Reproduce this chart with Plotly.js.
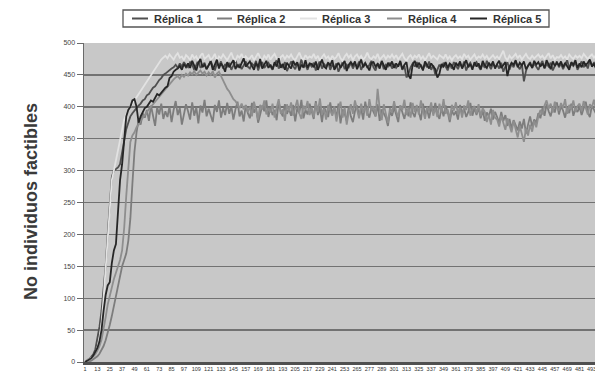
<!DOCTYPE html>
<html>
<head>
<meta charset="utf-8">
<script src="https://cdn.plot.ly/plotly-3.0.1.min.js"></script>
<style>html,body{margin:0;padding:0;background:#fff;}#chart{width:595px;height:381px;}</style>
</head>
<body>
<div id="chart"></div>
<script>
// Generation index step 2 (1,3,5,...,499)
const seriesNames = ["Réplica 1", "Réplica 2", "Réplica 3", "Réplica 4", "Réplica 5"];
const seriesColors = ["#4f4f4f", "#7d7d7d", "#e2e2e2", "#8e8e8e", "#262626"];

const replica1 = [
0,2,5,8,12,20,35,55,80,110,
150,200,250,290,300,302,305,310,330,350,
365,375,385,390,395,398,402,405,410,412,
418,420,425,430,432,438,442,445,450,452,
455,458,460,462,466,461,468,463,470,465,
462,470,466,458,467,473,461,465,469,459,
466,472,463,457,468,464,471,460,467,462,
469,458,465,474,462,467,459,466,471,463,
460,468,464,472,457,466,470,461,465,469,
463,458,467,473,460,466,462,470,456,465,
471,464,459,468,462,474,461,466,458,467,
463,469,457,465,472,460,467,463,470,458,
466,461,468,455,464,470,459,466,462,469,
460,467,463,471,458,465,469,461,466,472,
462,457,468,464,470,459,466,463,469,460,
467,461,465,470,458,464,446,452,462,468,
463,470,460,466,459,467,462,471,458,465,
450,458,466,461,469,463,457,467,460,470,
464,459,468,462,471,457,465,469,461,466,
470,463,458,467,461,472,464,459,468,462,
466,460,469,455,463,470,458,467,462,471,
464,459,467,440,456,465,470,461,468,463,
458,466,472,460,467,463,469,457,465,471,
462,468,459,466,473,461,467,464,470,458,
466,471,462,468,460,473,465,469,463,467];

const replica2 = [
0,0,1,2,4,6,9,13,18,25,
34,45,58,72,88,105,120,135,150,160,
170,190,225,280,330,360,380,372,390,383,
395,378,402,386,370,399,388,405,381,393,
384,400,376,395,409,387,398,372,390,404,
393,380,407,386,399,374,402,391,411,385,
397,388,376,403,392,410,383,398,387,406,
389,401,380,396,408,385,394,377,403,390,
382,406,391,399,375,388,402,393,410,384,
400,387,395,379,408,392,385,404,389,397,
386,403,377,398,390,411,382,395,388,405,
394,381,409,387,398,376,400,392,384,407,
388,399,383,405,374,396,389,378,401,385,
376,393,402,386,397,380,408,391,383,399,
392,385,404,378,396,389,383,370,392,386,
399,388,376,402,390,381,397,385,407,391,
384,400,392,379,405,388,396,382,399,390,
406,389,381,398,385,402,392,376,395,387,
393,380,403,389,397,384,392,406,386,398,
387,399,382,394,378,391,385,397,380,392,
384,375,392,378,387,370,381,366,379,372,
363,377,366,381,358,372,385,369,380,375,
390,382,398,386,404,393,385,400,391,407,
388,401,394,383,399,390,405,386,397,392,
400,387,396,408,391,384,402,395,389,398];

const replica3 = [
0,2,4,6,9,14,22,35,60,100,
150,200,250,285,300,315,335,350,365,380,
388,395,400,405,410,415,420,425,430,435,
440,445,450,456,460,465,470,474,477,480,
476,482,478,474,480,484,477,479,473,481,
478,473,482,476,479,471,480,484,475,478,
481,474,477,483,472,479,476,482,478,473,
479,485,476,472,480,477,483,474,479,475,
476,481,473,479,484,477,472,480,476,482,
474,479,483,476,471,478,481,475,480,477,
482,476,473,479,485,477,474,481,476,479,
477,483,475,480,472,478,482,476,479,473,
480,475,478,484,476,472,479,483,477,481,
473,479,482,476,480,474,478,485,477,475,
479,476,483,474,478,481,475,480,477,482,
476,481,474,479,483,476,472,478,481,475,
480,477,482,475,479,473,478,484,476,480,
477,474,481,478,476,482,475,479,473,478,
481,476,479,475,483,477,480,474,478,482,
475,479,477,482,476,480,474,478,481,476,
479,475,482,488,477,473,480,476,479,483,
476,481,474,478,483,477,475,480,476,479,
482,477,480,475,479,484,476,481,474,478,
477,481,476,479,474,482,478,475,480,477,
480,476,483,478,475,479,482,477,481,476];

const replica4 = [
0,1,3,5,8,12,18,25,35,50,
70,90,105,120,130,140,150,160,175,210,
260,310,345,355,360,368,372,378,383,388,
392,396,400,404,408,412,416,420,424,428,
432,436,440,443,446,448,444,450,447,452,
449,454,451,456,450,453,457,452,455,449,
454,450,456,446,452,455,448,440,434,428,
424,418,412,409,404,398,405,396,402,392,
400,385,408,392,380,403,396,410,388,398,
391,405,383,399,412,389,396,378,404,393,
407,386,398,411,390,381,402,395,409,387,
399,384,406,392,413,388,397,380,403,394,
386,401,377,395,408,383,399,372,392,404,
389,410,396,382,405,391,400,386,412,394,
401,385,428,397,379,404,389,375,398,391,
409,393,384,402,395,411,387,399,383,406,
392,403,388,410,395,381,400,393,407,386,
398,384,405,391,412,389,396,380,403,394,
407,388,399,383,402,395,410,386,397,401,
390,404,385,398,392,376,388,372,395,383,
380,369,386,375,364,382,371,360,378,366,
352,370,358,345,366,355,372,361,378,368,
385,395,388,402,410,397,405,391,408,399,
394,406,398,412,389,403,396,410,392,401,
405,393,409,397,388,404,399,411,395,402];

const replica5 = [
0,2,4,6,10,15,22,32,50,80,
105,120,125,155,175,185,240,285,310,348,
385,395,400,410,412,400,375,385,392,398,
400,405,410,408,415,420,418,422,425,430,
432,445,448,455,458,460,464,458,467,462,
468,461,472,464,457,469,475,462,466,459,
465,471,458,467,474,460,468,463,455,470,
462,468,473,459,466,461,470,476,463,467,
471,464,458,469,462,475,460,466,472,461,
466,459,470,463,476,461,467,458,469,464,
460,472,465,470,457,466,462,473,461,468,
467,462,471,458,466,474,463,460,469,465,
473,458,464,469,461,467,472,456,466,470,
465,471,459,466,474,462,468,463,457,469,
470,463,467,460,472,465,458,469,464,471,
461,468,463,472,459,466,470,449,444,466,
472,462,469,464,457,471,465,460,468,463,
459,446,452,467,463,470,461,468,465,458,
469,464,471,460,466,473,462,467,458,470,
463,468,459,472,465,461,469,464,471,460,
467,472,461,465,470,448,463,469,466,473,
462,469,465,471,459,464,468,461,472,466,
470,463,468,461,473,466,459,471,464,469,
465,471,462,469,464,458,470,466,473,461,
468,462,471,465,469,474,463,467,460,470];

const xTickLabels = [1,13,25,37,49,61,73,85,97,109,121,133,145,157,169,181,193,205,217,229,241,253,265,277,289,301,313,325,337,349,361,373,385,397,409,421,433,445,457,469,481,493];
const yTicks = [0,50,100,150,200,250,300,350,400,450,500];
const xMax = 496;

const allSeries = [replica1, replica2, replica3, replica4, replica5];
const traces = allSeries.map((vals, s) => ({
  type: 'scatter', mode: 'lines',
  x: vals.map((_, k) => 1 + 2 * k),
  y: vals,
  name: seriesNames[s],
  line: {color: seriesColors[s], width: 1.8},
  hoverinfo: 'skip'
}));

// pixel helpers for decoration (legend box, title)
const L = 84, T = 43, W = 511, H = 319;
const px = v => (v - L) / W;
const py = v => (T + H - v) / H;
const tickFont = {family: 'Liberation Sans, Arial, sans-serif', size: 5.5, color: '#333'};

const shapes = [
  {type: 'rect', xref: 'paper', yref: 'paper', x0: px(123), x1: px(549), y0: py(27), y1: py(10),
   line: {color: '#555', width: 1.3}, fillcolor: 'rgba(0,0,0,0)'}
];
const annotations = [
  {xref: 'paper', yref: 'paper', x: px(31), y: py(202), text: 'No individuos factibles', textangle: -90,
   showarrow: false, xanchor: 'center', yanchor: 'middle',
   font: {family: 'Liberation Sans, Arial, sans-serif', size: 18, weight: 'bold', color: '#3a3a3a'}},
  // last category label, partly cut by the page edge as in the original
  {xref: 'paper', yref: 'paper', x: xTickLabels[xTickLabels.length - 1] / xMax, y: py(368.5),
   text: String(xTickLabels[xTickLabels.length - 1]), showarrow: false, xanchor: 'center', yanchor: 'middle',
   font: tickFont}
];
const legLineX = [[132,148],[217,232],[300,317],[387,402],[470,487]];
const legTextX = [152, 235, 320, 406, 491];
seriesNames.forEach((n, s) => {
  shapes.push({type: 'line', xref: 'paper', yref: 'paper', x0: px(legLineX[s][0]), x1: px(legLineX[s][1]),
    y0: py(18.5), y1: py(18.5), line: {color: seriesColors[s], width: 2}});
  annotations.push({xref: 'paper', yref: 'paper', x: px(legTextX[s]), y: py(18.5), text: n,
    showarrow: false, xanchor: 'left', yanchor: 'middle',
    font: {family: 'Liberation Sans, Arial, sans-serif', size: 11, weight: 'bold', color: '#333'}});
});

const layout = {
  width: 595, height: 381,
  margin: {l: L, r: 0, t: T, b: 19, pad: 0},
  paper_bgcolor: '#ffffff', plot_bgcolor: '#c8c8c8',
  showlegend: false,
  xaxis: {range: [0, xMax], tickvals: xTickLabels, ticktext: xTickLabels.map(String),
    showgrid: false, zeroline: false, ticks: '', showline: true, linecolor: '#505050', linewidth: 2.5,
    tickfont: tickFont, fixedrange: true},
  yaxis: {range: [0, 500], tickvals: yTicks, showgrid: true, gridcolor: '#727272', gridwidth: 1.4,
    zeroline: false, showline: true, linecolor: '#6a6a6a', linewidth: 1.5,
    ticks: 'outside', ticklen: 6, tickcolor: '#6a6a6a', tickwidth: 1,
    tickfont: {family: 'Liberation Sans, Arial, sans-serif', size: 7, color: '#444'}, fixedrange: true},
  shapes: shapes,
  annotations: annotations
};

Plotly.newPlot('chart', traces, layout, {staticPlot: true, displayModeBar: false});
</script>
</body>
</html>
